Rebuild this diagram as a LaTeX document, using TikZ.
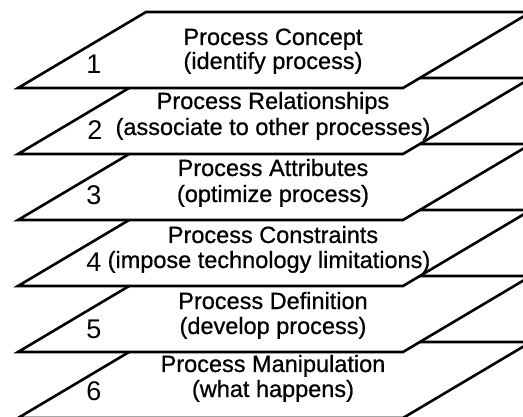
\documentclass[tikz,border=0pt]{standalone}
\usepackage{fontspec}
\setmainfont{Liberation Sans}
\newfontfamily\platefont{Liberation Sans}[FakeBold=0.7]
\tikzset{
  plate/.style={draw=black,fill=white,line width=2.6pt},
  heading/.style={anchor=base,inner sep=0pt,font=\platefont\fontsize{23.5}{26}\selectfont},
  levelnum/.style={anchor=base,inner sep=0pt,font=\fontsize{27}{29}\selectfont}
}

\begin{document}
\begin{tikzpicture}[x=1pt,y=-1pt]
\useasboundingbox (0,0) rectangle (523,417);
\clip (0,0) rectangle (523,417);
\filldraw[plate] (146,342) -- (531,342) -- (403,418) -- (18,418) -- cycle;
\node[levelnum] (num6) at (94,400) {6};
\node[heading] (manipulation) at (273,372) {Process Manipulation};
\node[heading] (manipulation-note) at (273,397) {(what happens)};
\filldraw[plate] (146,276) -- (531,276) -- (403,352) -- (18,352) -- cycle;
\node[levelnum] (num5) at (94,338) {5};
\node[heading] (definition) at (273,309) {Process Definition};
\node[heading] (definition-note) at (273,334) {(develop process)};
\filldraw[plate] (146,210) -- (531,210) -- (403,286) -- (18,286) -- cycle;
\node[levelnum] (num4) at (94,272) {4};
\node[heading] (constraints) at (273,243) {Process Constraints};
\node[heading] (constraints-note) at (269,268) {(impose technology limitations)};
\filldraw[plate] (146,144) -- (531,144) -- (403,220) -- (18,220) -- cycle;
\node[levelnum] (num3) at (94,205) {3};
\node[heading] (attributes) at (273,176) {Process Attributes};
\node[heading] (attributes-note) at (273,202) {(optimize process)};
\filldraw[plate] (146,78) -- (531,78) -- (403,154) -- (18,154) -- cycle;
\node[levelnum] (num2) at (95,140) {2};
\node[heading] (relationships) at (273,109) {Process Relationships};
\node[heading] (relationships-note) at (273,135) {(associate to other processes)};
\filldraw[plate] (146,12) -- (531,12) -- (403,88) -- (18,88) -- cycle;
\node[levelnum] (num1) at (94,74) {1};
\node[heading] (concept) at (273,45) {Process Concept};
\node[heading] (concept-note) at (273,69) {(identify process)};
\end{tikzpicture}
\end{document}
